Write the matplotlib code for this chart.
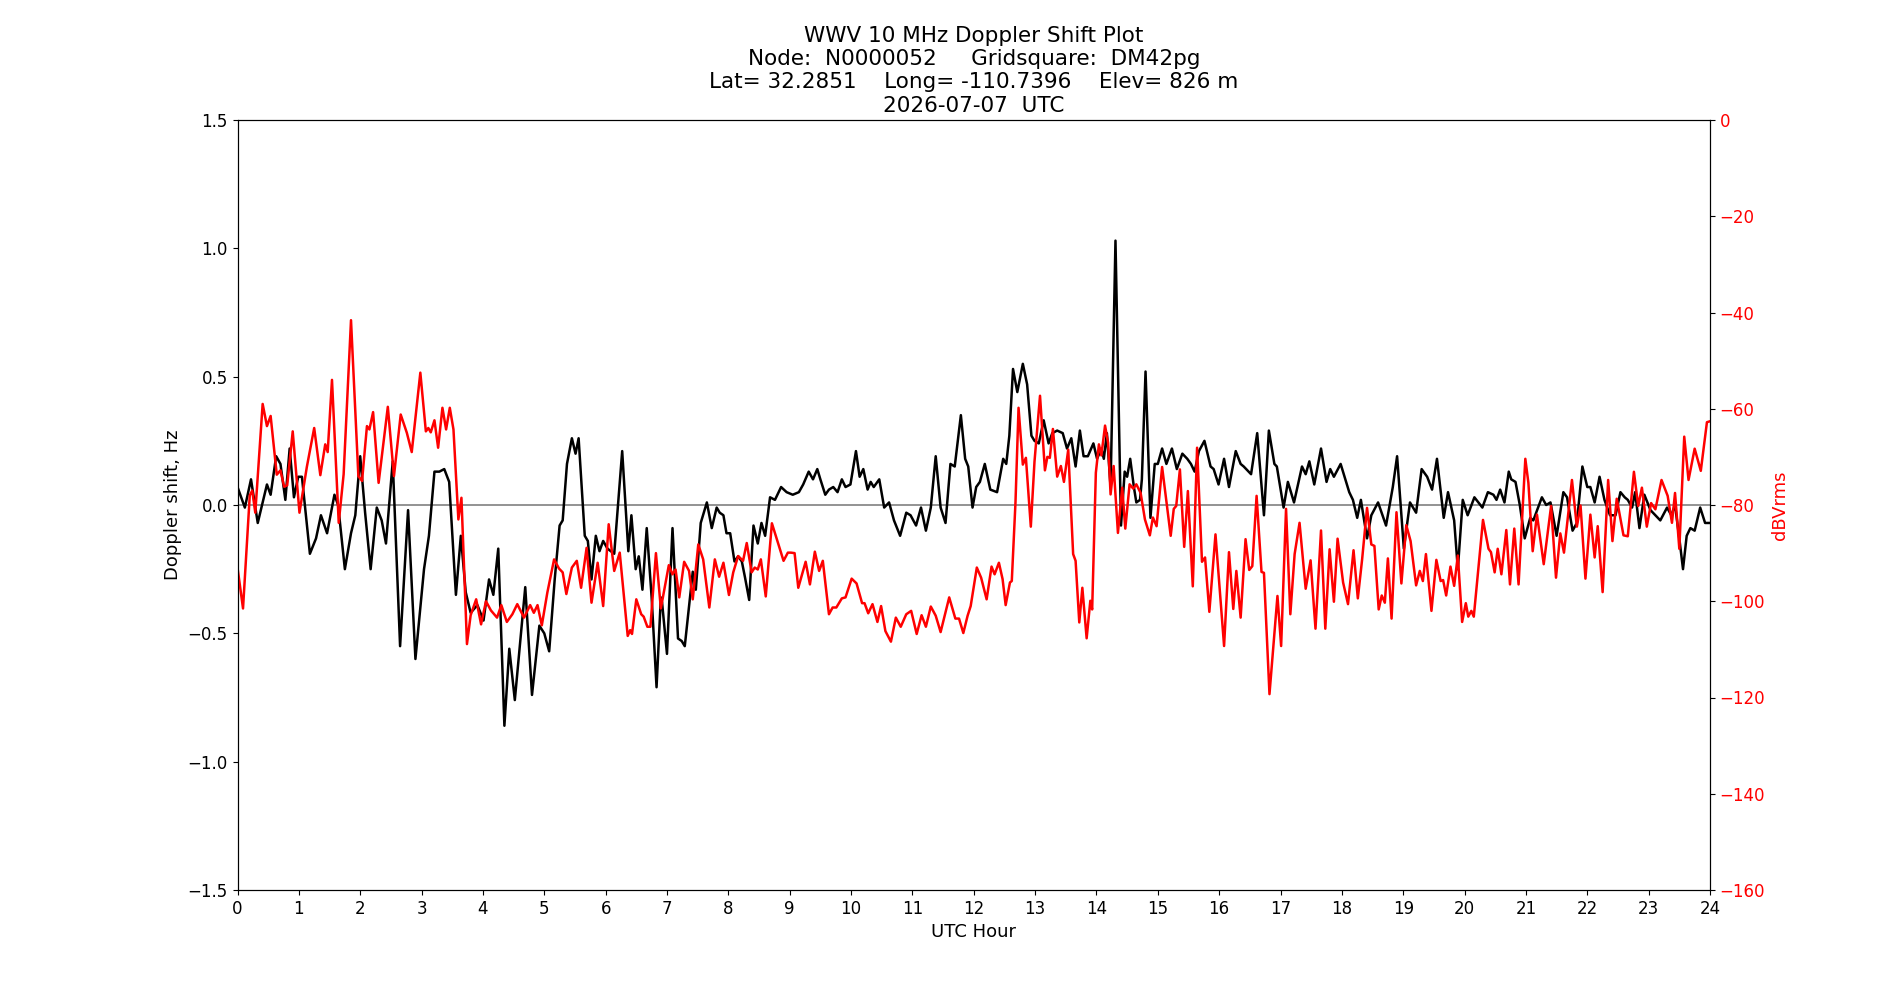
import matplotlib
matplotlib.use("Agg")
import matplotlib.pyplot as plt

# Doppler shift (Hz), hours UTC
dop_hours = [0.00, 0.12, 0.22, 0.33, 0.48, 0.54, 0.63, 0.70, 0.78, 0.85, 0.92, 0.99, 1.05, 1.18, 1.28,
             1.36, 1.46, 1.58, 1.64, 1.75, 1.85, 1.92, 2.00, 2.08, 2.17, 2.27, 2.35, 2.42, 2.53, 2.65,
             2.78, 2.90, 3.04, 3.12, 3.21, 3.29, 3.37, 3.45, 3.56, 3.64, 3.72, 3.80, 3.91, 4.01, 4.10,
             4.17, 4.25, 4.35, 4.43, 4.52, 4.69, 4.80, 4.92, 5.00, 5.08, 5.17, 5.25, 5.30, 5.37, 5.45,
             5.51, 5.56, 5.66, 5.71, 5.77, 5.84, 5.90, 5.96, 6.03, 6.14, 6.27, 6.37, 6.42, 6.49, 6.54,
             6.60, 6.67, 6.75, 6.83, 6.90, 6.92, 7.00, 7.09, 7.18, 7.24, 7.29, 7.42, 7.47, 7.55, 7.65,
             7.73, 7.81, 7.86, 7.92, 7.97, 8.03, 8.10, 8.16, 8.22, 8.27, 8.34, 8.41, 8.48, 8.54, 8.60,
             8.68, 8.76, 8.86, 8.95, 9.05, 9.15, 9.22, 9.31, 9.38, 9.45, 9.50, 9.58, 9.64, 9.71, 9.78,
             9.85, 9.91, 9.99, 10.08, 10.14, 10.20, 10.27, 10.32, 10.37, 10.46, 10.54, 10.62, 10.70,
             10.80, 10.90, 10.97, 11.06, 11.14, 11.22, 11.30, 11.38, 11.46, 11.54, 11.62, 11.69, 11.79,
             11.86, 11.91, 11.98, 12.04, 12.10, 12.18, 12.27, 12.38, 12.48, 12.53, 12.58, 12.64, 12.71,
             12.80, 12.87, 12.94, 12.99, 13.06, 13.14, 13.22, 13.28, 13.36, 13.45, 13.52, 13.59, 13.66,
             13.73, 13.79, 13.86, 13.95, 14.01, 14.08, 14.12, 14.17, 14.23, 14.31, 14.40, 14.46, 14.50,
             14.55, 14.61, 14.65, 14.71, 14.74, 14.80, 14.88, 14.95, 15.00, 15.07, 15.14, 15.23, 15.31,
             15.40, 15.48, 15.54, 15.60, 15.67, 15.76, 15.86, 15.91, 15.99, 16.08, 16.16, 16.27, 16.35,
             16.40, 16.52, 16.62, 16.73, 16.81, 16.90, 16.94, 17.05, 17.12, 17.22, 17.35, 17.41, 17.47,
             17.55, 17.66, 17.75, 17.81, 17.87, 17.98, 18.07, 18.12, 18.18, 18.25, 18.31, 18.41, 18.48,
             18.59, 18.72, 18.83, 18.90, 19.01, 19.11, 19.21, 19.30, 19.39, 19.47, 19.55, 19.66, 19.73,
             19.83, 19.89, 19.97, 20.05, 20.16, 20.29, 20.38, 20.47, 20.52, 20.58, 20.65, 20.72, 20.76,
             20.83, 20.90, 20.98, 21.07, 21.12, 21.26, 21.33, 21.40, 21.50, 21.61, 21.67, 21.76, 21.83,
             21.92, 22.00, 22.05, 22.12, 22.20, 22.28, 22.37, 22.46, 22.54, 22.61, 22.66, 22.73, 22.78,
             22.85, 22.93, 23.03, 23.11, 23.19, 23.30, 23.37, 23.43, 23.50, 23.56, 23.62, 23.68, 23.75,
             23.84, 23.92, 24.00]
dop_vals = [0.07, -0.01, 0.10, -0.07, 0.08, 0.04, 0.19, 0.16, 0.02, 0.22, 0.03, 0.11, 0.11, -0.19, -0.13,
            -0.04, -0.11, 0.04, 0.00, -0.25, -0.11, -0.04, 0.19, -0.03, -0.25, -0.01, -0.06, -0.15, 0.17, -0.55,
            -0.02, -0.60, -0.25, -0.12, 0.13, 0.13, 0.14, 0.09, -0.35, -0.12, -0.34, -0.42, -0.39, -0.45, -0.29,
            -0.35, -0.17, -0.86, -0.56, -0.76, -0.32, -0.74, -0.47, -0.50, -0.57, -0.29, -0.08, -0.06, 0.16, 0.26,
            0.20, 0.26, -0.12, -0.14, -0.29, -0.12, -0.18, -0.14, -0.17, -0.19, 0.21, -0.18, -0.04, -0.25, -0.20,
            -0.33, -0.09, -0.36, -0.71, -0.36, -0.38, -0.58, -0.09, -0.52, -0.53, -0.55, -0.26, -0.33, -0.07, 0.01,
            -0.09, -0.01, -0.03, -0.04, -0.11, -0.11, -0.22, -0.20, -0.22, -0.28, -0.37, -0.08, -0.15, -0.07, -0.12,
            0.03, 0.02, 0.07, 0.05, 0.04, 0.05, 0.08, 0.13, 0.10, 0.14, 0.10, 0.04, 0.06, 0.07, 0.05,
            0.10, 0.07, 0.08, 0.21, 0.11, 0.14, 0.06, 0.09, 0.07, 0.10, -0.01, 0.01, -0.06,
            -0.12, -0.03, -0.04, -0.08, -0.01, -0.10, -0.01, 0.19, -0.01, -0.07, 0.16, 0.15, 0.35,
            0.18, 0.15, -0.01, 0.07, 0.09, 0.16, 0.06, 0.05, 0.18, 0.16, 0.27, 0.53, 0.44,
            0.55, 0.47, 0.27, 0.25, 0.24, 0.33, 0.24, 0.28, 0.29, 0.28, 0.22, 0.26, 0.15,
            0.29, 0.19, 0.19, 0.24, 0.18, 0.22, 0.18, 0.28, 0.07, 1.03, -0.08, 0.13, 0.11,
            0.18, 0.07, 0.01, 0.02, 0.10, 0.52, -0.05, 0.16, 0.16, 0.22, 0.16, 0.22, 0.14,
            0.20, 0.18, 0.16, 0.13, 0.21, 0.25, 0.15, 0.14, 0.08, 0.18, 0.07, 0.21, 0.16,
            0.15, 0.12, 0.28, -0.04, 0.29, 0.16, 0.15, -0.01, 0.09, 0.01, 0.15, 0.12, 0.17,
            0.08, 0.22, 0.09, 0.14, 0.11, 0.16, 0.09, 0.05, 0.02, -0.05, 0.02, -0.13, -0.04,
            0.01, -0.08, 0.07, 0.19, -0.17, 0.01, -0.03, 0.14, 0.11, 0.06, 0.18, -0.05, 0.05,
            -0.06, -0.25, 0.02, -0.04, 0.03, -0.01, 0.05, 0.04, 0.02, 0.06, 0.01, 0.13, 0.10,
            0.09, 0.00, -0.13, -0.05, -0.06, 0.03, 0.00, 0.01, -0.12, 0.05, 0.03, -0.10, -0.07,
            0.15, 0.07, 0.07, 0.01, 0.11, 0.02, -0.04, -0.04, 0.05, 0.03, 0.02, -0.01, 0.05,
            -0.09, 0.04, -0.02, -0.04, -0.06, -0.01, -0.04, 0.00, -0.13, -0.25, -0.12, -0.09, -0.10,
            -0.01, -0.07, -0.07]

# received level (dBVrms)
pwr_hours = [0.00, 0.09, 0.20, 0.24, 0.29, 0.41, 0.48, 0.54, 0.64, 0.70, 0.76, 0.81, 0.90, 1.01, 1.13,
             1.25, 1.35, 1.43, 1.47, 1.54, 1.65, 1.73, 1.85, 1.97, 2.03, 2.11, 2.15, 2.21, 2.30, 2.45,
             2.55, 2.66, 2.76, 2.84, 2.98, 3.07, 3.11, 3.15, 3.21, 3.27, 3.34, 3.40, 3.46, 3.52, 3.60,
             3.65, 3.74, 3.80, 3.89, 3.97, 4.05, 4.13, 4.23, 4.30, 4.39, 4.48, 4.56, 4.67, 4.77, 4.83,
             4.89, 4.96, 5.05, 5.16, 5.24, 5.30, 5.36, 5.45, 5.53, 5.60, 5.69, 5.77, 5.87, 5.96, 6.05,
             6.14, 6.23, 6.36, 6.40, 6.43, 6.50, 6.58, 6.62, 6.68, 6.73, 6.82, 6.90, 7.03, 7.09, 7.14,
             7.20, 7.28, 7.36, 7.42, 7.51, 7.59, 7.69, 7.78, 7.85, 7.92, 8.01, 8.08, 8.16, 8.24, 8.30,
             8.38, 8.43, 8.48, 8.53, 8.61, 8.71, 8.80, 8.90, 8.97, 9.02, 9.08, 9.14, 9.26, 9.33, 9.41,
             9.48, 9.54, 9.64, 9.70, 9.76, 9.85, 9.91, 10.01, 10.09, 10.18, 10.22, 10.28, 10.35, 10.43,
             10.49, 10.56, 10.65, 10.73, 10.81, 10.90, 10.98, 11.07, 11.15, 11.22, 11.30, 11.38, 11.46,
             11.60, 11.70, 11.76, 11.83, 11.90, 11.95, 12.05, 12.12, 12.21, 12.29, 12.34, 12.41, 12.47,
             12.52, 12.59, 12.62, 12.68, 12.73, 12.80, 12.85, 12.93, 12.99, 13.08, 13.16, 13.20, 13.24,
             13.29, 13.36, 13.42, 13.47, 13.54, 13.62, 13.66, 13.72, 13.77, 13.84, 13.90, 13.93, 13.99,
             14.04, 14.08, 14.14, 14.19, 14.23, 14.28, 14.35, 14.42, 14.47, 14.54, 14.60, 14.65, 14.72,
             14.79, 14.87, 14.92, 14.98, 15.07, 15.21, 15.26, 15.30, 15.36, 15.43, 15.49, 15.57, 15.64,
             15.72, 15.77, 15.84, 15.94, 16.08, 16.16, 16.23, 16.28, 16.35, 16.43, 16.49, 16.54, 16.61,
             16.69, 16.73, 16.82, 16.95, 17.01, 17.09, 17.16, 17.23, 17.31, 17.41, 17.49, 17.57, 17.66,
             17.73, 17.80, 17.87, 17.93, 18.02, 18.10, 18.19, 18.26, 18.33, 18.41, 18.48, 18.53, 18.60,
             18.65, 18.70, 18.75, 18.81, 18.89, 18.97, 19.05, 19.12, 19.21, 19.27, 19.32, 19.37, 19.46,
             19.54, 19.61, 19.65, 19.70, 19.77, 19.83, 19.89, 19.96, 20.02, 20.06, 20.11, 20.15, 20.30,
             20.39, 20.43, 20.49, 20.54, 20.60, 20.68, 20.74, 20.81, 20.88, 20.99, 21.04, 21.11, 21.18,
             21.29, 21.41, 21.49, 21.56, 21.62, 21.75, 21.83, 21.89, 21.97, 22.05, 22.12, 22.17, 22.25,
             22.34, 22.41, 22.48, 22.59, 22.66, 22.76, 22.83, 22.89, 22.97, 23.04, 23.11, 23.21, 23.31,
             23.38, 23.43, 23.50, 23.58, 23.65, 23.75, 23.85, 23.95, 24.00]
pwr_vals = [-93, -101.5, -78, -77, -81.6, -59, -63.6, -61.5, -73.7, -72.8, -76.2, -75.9, -64.7, -81.6, -72.1,
            -64, -73.8, -67.4, -69, -54, -83.7, -73.6, -41.6, -74, -75, -63.6, -64.3, -60.7, -75.4, -59.6,
            -74, -61.2, -65, -69, -52.5, -64.7, -64, -64.9, -62.4, -68.1, -59.8, -64.3, -59.8, -64.3, -83,
            -78.5, -108.9, -102.9, -99.6, -104.8, -100, -101.9, -103.4, -100.8, -104.3, -102.7, -100.6, -103.4, -100.8, -102.4,
            -100.8, -105, -98.2, -91.3, -93.2, -94, -98.5, -93, -91.6, -97.2, -88.9, -100.3, -92, -101, -84,
            -93.7, -89.9, -107.2, -106, -106.8, -99.6, -102.7, -103.2, -105.3, -105.3, -90, -101.5, -92.5, -94.4, -93.4,
            -99.2, -91.8, -93.7, -99.6, -88.2, -91.3, -101.3, -91.3, -94.9, -92, -98.7, -94, -90.6, -91.6, -87.9,
            -94, -93, -93.4, -91.3, -99, -83.8, -87.5, -91.6, -89.9, -89.9, -90, -97.2, -91.8, -96.5, -89.7,
            -93.7, -91.6, -102.7, -101.3, -101.3, -99.4, -99.2, -95.3, -96.3, -100.4, -100.4, -102.5, -100.6, -104.3,
            -101, -106.2, -108.4, -103.4, -105.3, -102.7, -102, -106.8, -102.9, -105.3, -101.1, -103, -106.4,
            -99.2, -103.6, -103.6, -106.6, -103, -101, -93, -95.1, -99.6, -92.8, -94.4, -92, -95.4,
            -100.8, -96.1, -95.8, -79.5, -59.8, -71.6, -70.2, -84.5, -71, -57.3, -72.8, -70, -70.2,
            -64.2, -74.1, -71.9, -75.2, -68.5, -90.2, -91.6, -104.4, -97.2, -107.7, -99.9, -101.7, -73.3,
            -67.4, -69.7, -63.5, -67.1, -77.8, -71.9, -85.8, -76.4, -84.9, -75.7, -76.6, -75.7, -77.5,
            -83, -86.3, -82.6, -84.4, -72.1, -86.4, -80.8, -80.2, -72.6, -88.7, -77.1, -96.9, -68.1,
            -91.8, -90.9, -102.2, -86.1, -109.3, -89.8, -101.6, -93.7, -103.4, -87.1, -93.5, -92.7, -78.1,
            -93.9, -94.1, -119.3, -98.9, -109.3, -80.8, -102.7, -90.2, -83.7, -97.4, -91.5, -105.7, -85.3,
            -105.7, -89.2, -100.1, -87, -96.1, -100.6, -89.4, -99.4, -91.3, -80.6, -88.2, -88.5, -101.7,
            -98.8, -100.3, -91.1, -103.6, -81.5, -96.3, -84.2, -87.5, -96.7, -93.7, -95.8, -90.2, -102,
            -91.4, -95.8, -95.6, -98.8, -92.8, -96.8, -90.5, -104.3, -100.4, -103.2, -102, -103.2, -83.1,
            -89.1, -89.8, -94, -89.1, -94.4, -85.2, -96.5, -84.9, -96.5, -70.4, -75.4, -89.6, -82,
            -92.3, -80.2, -95.1, -85.9, -89.9, -74.8, -84.5, -80.1, -95.3, -82, -90.9, -84.4, -98.1,
            -74.8, -87.5, -78.7, -86.3, -86.5, -73.1, -80.2, -76.4, -84.5, -79.6, -80.9, -74.8, -78.1,
            -83.7, -77.5, -89.1, -65.8, -74.8, -68.3, -72.9, -62.8, -62.6]

hour_ticks = list(range(0, 25))
title_lines = ["WWV 10 MHz Doppler Shift Plot",
               "Node:  N0000052     Gridsquare:  DM42pg",
               "Lat= 32.2851    Long= -110.7396    Elev= 826 m",
               "2026-07-07  UTC"]

plt.rcParams['font.size'] = 12

fig = plt.figure(figsize=(19, 10), dpi=100)
ax = fig.add_subplot(111)
ax.axhline(0, color='grey', linewidth=1.2)
ax.plot(dop_hours, dop_vals, color='k', linewidth=1.8)
ax.set_xlim(0, 24)
ax.set_ylim(-1.5, 1.5)
ax.set_xticks(hour_ticks)
ax.set_xlabel('UTC Hour', fontsize=13)
ax.set_ylabel('Doppler shift, Hz', fontsize=13)
ax.set_title('\n'.join(title_lines), fontsize=15.5)

ax2 = ax.twinx()
ax2.plot(pwr_hours, pwr_vals, color='r', linewidth=1.8)
ax2.set_ylim(-160, 0)
ax2.set_ylabel('dBVrms', color='r', fontsize=13)
ax2.tick_params(axis='y', labelcolor='r')

fig.savefig('out.png', dpi=100)
